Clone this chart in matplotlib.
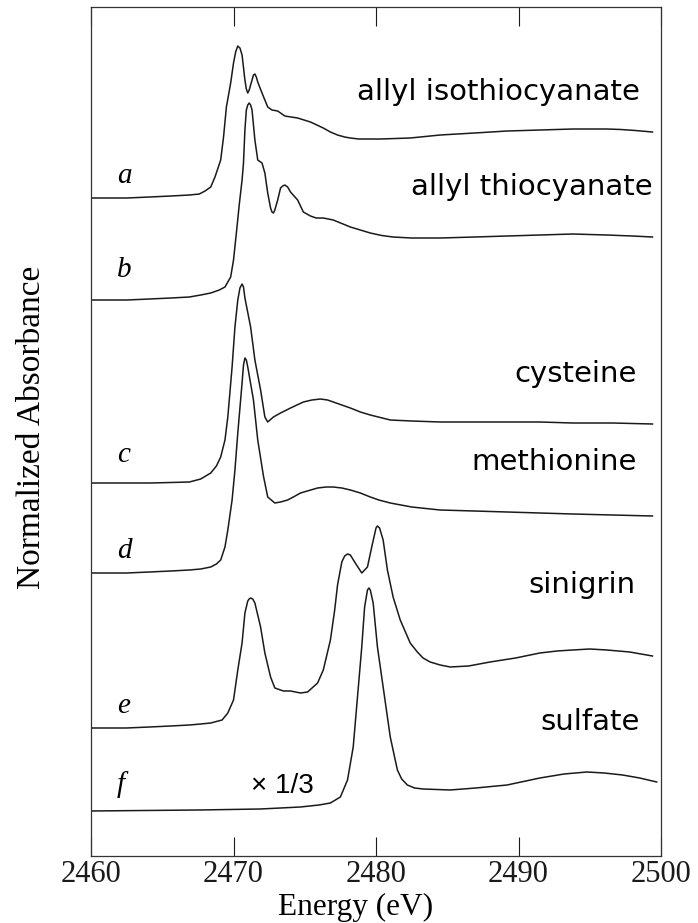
import numpy as np
from matplotlib import pyplot as plt

# S K-edge XANES spectra (energy in eV, normalized absorbance)
labels = ['a', 'b', 'c', 'd', 'e', 'f']
names = ['allyl isothiocyanate', 'allyl thiocyanate', 'cysteine', 'methionine', 'sinigrin', 'sulfate']
offsets = [6.58, 5.56, 3.73, 2.83, 1.28, 0.45]

e_a = [2460.0, 2462.5, 2464.1, 2465.6, 2466.9, 2467.6, 2468.0, 2468.4, 2468.7, 2469.1, 2469.3, 2469.5,
       2469.8, 2470.0, 2470.15, 2470.3, 2470.45, 2470.6, 2470.8, 2470.9, 2471.0, 2471.1, 2471.3, 2471.4,
       2471.5, 2471.6, 2471.7, 2472.0, 2472.4, 2472.7, 2473.1, 2473.6, 2474.5, 2475.4, 2476.3, 2476.8,
       2477.3, 2477.8, 2478.2, 2478.8, 2479.4, 2480.3, 2482.4, 2484.5, 2486.9, 2489.2, 2491.5, 2493.8,
       2495.0, 2496.2, 2497.2, 2498.2, 2499.4]
a_a = [0.00, 0.00, 0.01, 0.02, 0.03, 0.04, 0.07, 0.11, 0.21, 0.38, 0.61, 0.91,
       1.15, 1.35, 1.46, 1.52, 1.50, 1.43, 1.18, 1.09, 1.05, 1.08, 1.18, 1.23,
       1.24, 1.21, 1.16, 1.05, 0.91, 0.88, 0.87, 0.82, 0.80, 0.76, 0.70, 0.66,
       0.63, 0.61, 0.60, 0.59, 0.59, 0.59, 0.60, 0.63, 0.65, 0.67, 0.68, 0.69,
       0.69, 0.69, 0.685, 0.675, 0.66]

e_b = [2460.0, 2462.5, 2464.1, 2465.6, 2466.9, 2467.7, 2468.4, 2469.0, 2469.4, 2469.8, 2470.0, 2470.2,
       2470.4, 2470.6, 2470.7, 2470.8, 2470.9, 2471.0, 2471.1, 2471.2, 2471.3, 2471.5, 2471.7, 2472.0,
       2472.2, 2472.4, 2472.6, 2472.7, 2472.8, 2472.9, 2473.1, 2473.3, 2473.45, 2473.6, 2473.8, 2474.0,
       2474.5, 2474.9, 2475.4, 2475.8, 2476.3, 2477.0, 2478.2, 2479.6, 2480.4, 2481.2, 2482.5, 2484.5,
       2486.9, 2489.2, 2491.5, 2493.8, 2495.0, 2496.2, 2498.0, 2499.4]
a_b = [0.00, 0.00, 0.01, 0.02, 0.03, 0.05, 0.07, 0.10, 0.13, 0.23, 0.40, 0.67,
       0.95, 1.20, 1.37, 1.70, 1.90, 1.95, 1.97, 1.95, 1.90, 1.60, 1.40, 1.37,
       1.27, 1.07, 0.92, 0.88, 0.87, 0.90, 1.00, 1.12, 1.14, 1.15, 1.13, 1.08,
       1.00, 0.88, 0.84, 0.82, 0.82, 0.80, 0.73, 0.67, 0.645, 0.63, 0.62, 0.62,
       0.63, 0.64, 0.65, 0.66, 0.655, 0.65, 0.64, 0.63]

e_c = [2460.0, 2462.5, 2464.1, 2465.6, 2466.9, 2467.7, 2468.4, 2468.8, 2469.1, 2469.4, 2469.6, 2469.9,
       2470.1, 2470.3, 2470.45, 2470.6, 2470.7, 2470.8, 2471.2, 2471.5, 2471.9, 2472.2, 2472.4, 2472.8,
       2473.3, 2474.0, 2474.9, 2475.5, 2476.1, 2476.6, 2477.0, 2477.6, 2478.2, 2478.9, 2479.6, 2481.0,
       2482.5, 2484.5, 2486.9, 2489.2, 2491.5, 2493.8, 2496.6, 2499.4]
a_c = [0.00, 0.00, 0.00, 0.005, 0.01, 0.04, 0.10, 0.17, 0.26, 0.43, 0.66, 1.16,
       1.56, 1.83, 1.95, 1.99, 1.96, 1.85, 1.56, 1.23, 0.93, 0.66, 0.61, 0.66,
       0.70, 0.75, 0.81, 0.83, 0.84, 0.83, 0.81, 0.78, 0.75, 0.71, 0.68, 0.63,
       0.62, 0.61, 0.61, 0.61, 0.61, 0.60, 0.60, 0.59]

e_d = [2460.0, 2462.5, 2464.1, 2465.6, 2466.9, 2467.7, 2468.4, 2468.8, 2469.1, 2469.4, 2469.6, 2469.9,
       2470.1, 2470.3, 2470.6, 2470.7, 2470.8, 2470.9, 2471.0, 2471.4, 2471.7, 2472.1, 2472.4, 2472.9,
       2473.3, 2473.8, 2474.2, 2474.7, 2475.9, 2476.5, 2477.0, 2477.6, 2478.2, 2478.9, 2479.6, 2480.2,
       2481.0, 2482.5, 2484.5, 2486.9, 2489.2, 2491.5, 2493.8, 2496.6, 2499.4]
a_d = [0.00, 0.00, 0.01, 0.02, 0.03, 0.04, 0.06, 0.09, 0.13, 0.26, 0.43, 0.73,
       1.03, 1.40, 1.90, 2.08, 2.15, 2.13, 2.06, 1.73, 1.33, 0.97, 0.76, 0.70,
       0.71, 0.73, 0.76, 0.80, 0.85, 0.86, 0.86, 0.85, 0.83, 0.80, 0.76, 0.73,
       0.70, 0.66, 0.63, 0.62, 0.61, 0.60, 0.59, 0.58, 0.57]

e_e = [2460.0, 2462.5, 2464.1, 2465.6, 2466.9, 2467.7, 2468.4, 2469.2, 2469.6, 2470.0, 2470.3, 2470.6,
       2470.8, 2471.0, 2471.1, 2471.2, 2471.35, 2471.5, 2471.9, 2472.2, 2472.6, 2472.9, 2473.5, 2474.0,
       2474.7, 2475.2, 2475.9, 2476.3, 2476.8, 2477.1, 2477.3, 2477.6, 2477.8, 2478.0, 2478.2, 2478.5,
       2479.0, 2479.4, 2479.7, 2480.0, 2480.1, 2480.25, 2480.5, 2480.8, 2481.2, 2481.7, 2482.4, 2482.9,
       2483.3, 2483.8, 2484.5, 2485.2, 2486.5, 2488.0, 2489.8, 2491.5, 2492.7, 2493.8, 2495.0, 2496.2,
       2497.8, 2499.4]
a_e = [0.00, 0.00, 0.01, 0.02, 0.03, 0.04, 0.05, 0.08, 0.15, 0.28, 0.58, 0.85,
       1.15, 1.27, 1.29, 1.30, 1.29, 1.25, 1.01, 0.75, 0.51, 0.40, 0.37, 0.37,
       0.35, 0.36, 0.45, 0.58, 0.88, 1.18, 1.43, 1.66, 1.72, 1.74, 1.73, 1.66,
       1.55, 1.61, 1.81, 2.00, 2.02, 2.00, 1.88, 1.58, 1.31, 1.08, 0.85, 0.76,
       0.70, 0.66, 0.63, 0.61, 0.62, 0.66, 0.70, 0.75, 0.77, 0.78, 0.79, 0.78,
       0.76, 0.72]

e_f = [2460.0, 2467.6, 2471.9, 2474.7, 2476.0, 2476.8, 2477.5, 2478.0, 2478.4, 2478.7, 2479.0, 2479.2,
       2479.4, 2479.5, 2479.6, 2479.8, 2480.1, 2480.6, 2481.0, 2481.5, 2481.8, 2482.2, 2482.7, 2483.3,
       2485.2, 2487.0, 2489.2, 2491.5, 2493.2, 2494.8, 2496.0, 2497.3, 2498.5, 2499.7]
a_f = [0.00, 0.01, 0.02, 0.04, 0.06, 0.08, 0.14, 0.31, 0.64, 1.14, 1.64, 2.04,
       2.21, 2.23, 2.21, 2.08, 1.64, 1.14, 0.74, 0.41, 0.32, 0.26, 0.23, 0.22,
       0.21, 0.23, 0.26, 0.33, 0.37, 0.39, 0.38, 0.36, 0.33, 0.29]

energies = [e_a, e_b, e_c, e_d, e_e, e_f]
spectra = [a_a, a_b, a_c, a_d, a_e, a_f]

# label positions (baseline of text, data units)
name_y = [7.56, 6.61, 4.74, 3.86, 2.63, 1.26]
name_x = [2498.5, 2499.4, 2498.3, 2498.3, 2498.2, 2498.5]
letter_y = [6.73, 5.79, 3.94, 2.98, 1.43, 0.64]

fig = plt.figure(figsize=(6.98, 9.23), dpi=100)
ax = fig.add_axes([0.1304, 0.0726, 0.8166, 0.9198])

for e, s, off in zip(energies, spectra, offsets):
    ax.plot(e, np.array(s) + off, color='#1a1a1a', lw=1.1, solid_joinstyle='round')

for name, x, y in zip(names, name_x, name_y):
    ax.text(x, y, name, ha='right', va='baseline', fontsize=21, family='DejaVu Sans')
for lab, y in zip(labels, letter_y):
    ax.text(2461.8, y, lab, ha='left', va='baseline', fontsize=21,
            family='Liberation Serif', style='italic')
ax.text(2471.2, 0.63, '\u00d7 1/3', ha='left', va='baseline', fontsize=20, family='Liberation Sans')

ax.set_xlim(2460, 2500)
ax.set_ylim(0, 8.49)
ax.set_xticks([2460, 2470, 2480, 2490, 2500])
ax.set_yticks([])
ax.tick_params(axis='x', direction='in', length=14, width=0.8, top=True, pad=3,
               labelsize=22, colors='#1a1a1a')
for lbl in ax.get_xticklabels():
    lbl.set_family('Liberation Serif')
for sp in ax.spines.values():
    sp.set_linewidth(0.9)
    sp.set_color('#333333')

fig.text(0.509, 0.0087, 'Energy (eV)', ha='center', va='baseline', fontsize=22.5,
         family='Liberation Serif')
fig.text(0.045, 0.537, 'Normalized Absorbance', ha='center', va='center', rotation=90,
         fontsize=24, family='Liberation Serif')

fig.savefig('out.png', dpi=100)
